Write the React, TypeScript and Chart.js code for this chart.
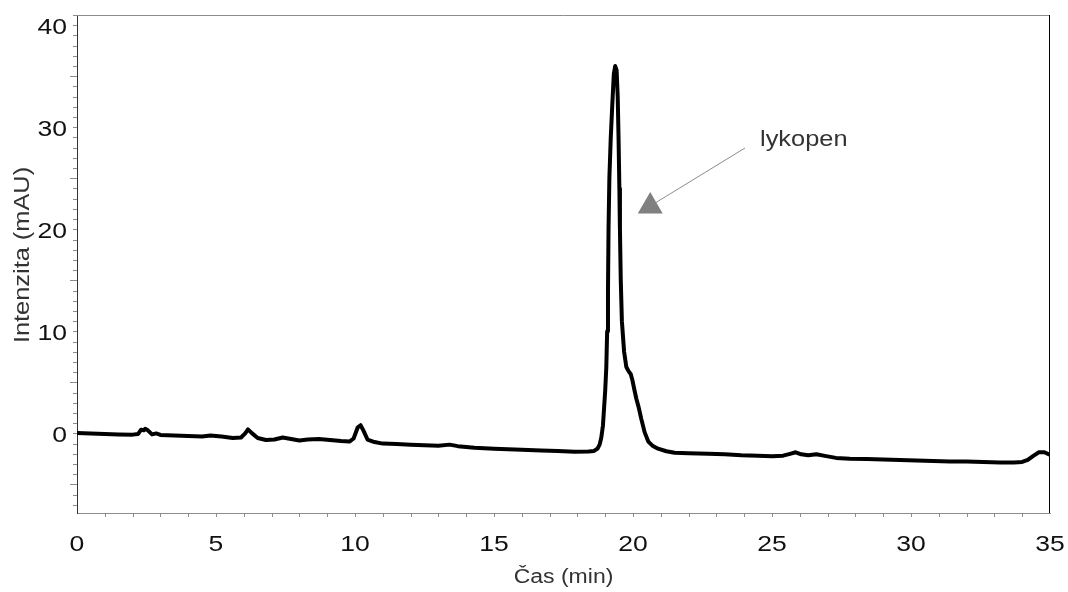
import { useEffect, useRef } from "react";
import { Chart, registerables } from "chart.js";

Chart.register(...registerables);

// Retention time (min) of the detector trace
const timeMin = [
  0, 0.5, 1.0, 1.5, 2.0, 2.2, 2.3, 2.4, 2.45, 2.55, 2.7, 2.85, 3.0, 3.5, 4.0, 4.5, 4.8, 5.2, 5.6, 5.9,
  6.05, 6.15, 6.3, 6.5, 6.8, 7.1, 7.4, 7.7, 8.0, 8.3, 8.7, 9.1, 9.5, 9.8, 9.95, 10.1, 10.2, 10.3, 10.45,
  10.7, 11.0, 11.5, 12.0, 12.5, 13.0, 13.4, 13.7, 14.3, 15.0, 15.5, 16.0, 16.7, 17.3, 17.9, 18.4, 18.6,
  18.72, 18.8, 18.86, 18.92, 18.96, 19.0, 19.04, 19.07, 19.1, 19.12, 19.15, 19.2, 19.26, 19.31, 19.36,
  19.41, 19.45, 19.48, 19.51, 19.53, 19.56, 19.6, 19.68, 19.76, 19.84, 19.92, 19.98, 20.04, 20.12, 20.2,
  20.3, 20.42, 20.55, 20.7, 20.9, 21.2, 21.5, 22.0, 22.7, 23.3, 23.9, 24.5, 25.0, 25.4, 25.65, 25.85,
  26.05, 26.3, 26.6, 26.9, 27.3, 27.8, 28.4, 29.0, 29.6, 30.2, 30.8, 31.4, 32.0, 32.6, 33.2, 33.7, 34.0,
  34.2, 34.4, 34.6, 34.8, 34.95,
];

// Absorbance (mAU) at each retention time
const intensity = [
  0.05, 0.0, -0.05, -0.1, -0.12, -0.05, 0.35, 0.3, 0.45, 0.3, -0.1, 0.0, -0.15, -0.2, -0.25, -0.3, -0.2,
  -0.3, -0.45, -0.4, 0.0, 0.4, 0.0, -0.45, -0.65, -0.6, -0.4, -0.55, -0.7, -0.6, -0.55, -0.65, -0.75,
  -0.8, -0.5, 0.6, 0.8, 0.3, -0.6, -0.85, -1.0, -1.05, -1.1, -1.15, -1.2, -1.1, -1.25, -1.4, -1.5, -1.55,
  -1.6, -1.68, -1.72, -1.8, -1.78, -1.72, -1.5, -1.1, -0.4, 0.8, 2.5, 4.2, 6.5, 10.0, 14.0, 20.0, 25.0,
  29.0, 32.5, 35.2, 36.0, 35.6, 33.0, 29.0, 24.0, 20.0, 15.0, 11.0, 8.0, 6.5, 6.1, 5.8, 5.2, 4.4, 3.4,
  2.6, 1.4, 0.1, -0.8, -1.2, -1.5, -1.75, -1.9, -1.95, -2.0, -2.05, -2.15, -2.2, -2.25, -2.18, -2.0,
  -1.85, -2.05, -2.15, -2.05, -2.2, -2.4, -2.48, -2.5, -2.55, -2.6, -2.65, -2.7, -2.75, -2.75, -2.8,
  -2.85, -2.85, -2.8, -2.6, -2.2, -1.85, -1.85, -2.05,
];

// Labelled axis ticks
const xTickLabels = [0, 5, 10, 15, 20, 25, 30, 35];
const yTickLabels = [0, 10, 20, 30, 40];

// Peak annotation: marker, leader line and label (data coordinates)
const markerTime = [20.62];
const markerIntensity = [22.25];
const leaderTime = [20.81, 24.03];
const leaderIntensity = [22.6, 27.97];
const peakLabel = "lykopen";
const peakLabelAt = [24.57, 28.2];

const FONT = "'Liberation Sans', Arial, sans-serif";
const TEXT_STRETCH = 1.18;

function drawText(
  ctx: CanvasRenderingContext2D,
  text: string,
  x: number,
  y: number,
  size: number,
  color: string,
  align: CanvasTextAlign,
  rotate = 0
) {
  ctx.save();
  ctx.translate(x, y);
  if (rotate) ctx.rotate(rotate);
  ctx.scale(TEXT_STRETCH, 1);
  ctx.font = `${size}px ${FONT}`;
  ctx.fillStyle = color;
  ctx.textAlign = align;
  ctx.textBaseline = "alphabetic";
  ctx.fillText(text, 0, 0);
  ctx.restore();
}

const axisDecor = {
  id: "axisDecor",
  afterDraw(chart: any) {
    const { ctx, chartArea: a, scales } = chart;
    const xs = scales.x;
    const ys = scales.y;
    ctx.save();
    ctx.lineWidth = 1;

    // frame: top edge grey, right edge black
    ctx.strokeStyle = "#8c8c8c";
    ctx.beginPath();
    ctx.moveTo(a.left, a.top + 0.5);
    ctx.lineTo(a.right, a.top + 0.5);
    ctx.stroke();
    ctx.strokeStyle = "#000";
    ctx.beginPath();
    ctx.moveTo(a.right - 0.5, a.top);
    ctx.lineTo(a.right - 0.5, a.bottom);
    ctx.stroke();

    // minor ticks every unit; longer ones halfway between labelled values
    ctx.strokeStyle = "#8c8c8c";
    ctx.beginPath();
    ys.ticks.forEach((t: any) => {
      if (t.value < ys.min || t.value > ys.max) return;
      const py = Math.round(ys.getPixelForValue(t.value)) + 0.5;
      const len = Math.abs(t.value % 10) === 5 ? 7 : 4;
      ctx.moveTo(a.left - len, py);
      ctx.lineTo(a.left, py);
    });
    xs.ticks.forEach((t: any) => {
      if (t.value <= xs.min || t.value >= xs.max) return;
      const px = Math.round(xs.getPixelForValue(t.value)) + 0.5;
      ctx.moveTo(px, a.bottom);
      ctx.lineTo(px, a.bottom + 4);
    });
    ctx.stroke();

    // tick labels
    xTickLabels.forEach((v) => {
      drawText(ctx, String(v), xs.getPixelForValue(v), a.bottom + 38, 22.5, "#111", "center");
    });
    yTickLabels.forEach((v) => {
      drawText(ctx, String(v), a.left - 10, ys.getPixelForValue(v) + 8.5, 22.5, "#111", "right");
    });

    // axis titles
    drawText(ctx, "Čas (min)", (a.left + a.right) / 2, 582.5, 19.5, "#333", "center");
    drawText(ctx, "Intenzita (mAU)", 29, 255, 21.5, "#333", "center", -Math.PI / 2);

    // peak label
    drawText(
      ctx,
      peakLabel,
      xs.getPixelForValue(peakLabelAt[0]),
      ys.getPixelForValue(peakLabelAt[1]),
      21.5,
      "#333",
      "left"
    );
    ctx.restore();
  },
};

export default function App() {
  const canvasRef = useRef<HTMLCanvasElement | null>(null);

  useEffect(() => {
    const canvas = canvasRef.current;
    if (!canvas) return;
    const chart = new Chart(canvas, {
      type: "line",
      data: {
        datasets: [
          {
            label: "trace",
            data: timeMin.map((t, i) => ({ x: t, y: intensity[i] })),
            borderColor: "#000",
            borderWidth: 4,
            borderJoinStyle: "round",
            borderCapStyle: "round",
            pointRadius: 0,
            tension: 0,
            fill: false,
          },
          {
            label: "leader",
            data: leaderTime.map((t, i) => ({ x: t, y: leaderIntensity[i] })),
            borderColor: "#8c8c8c",
            borderWidth: 1,
            pointRadius: 0,
            fill: false,
          },
          {
            label: "marker",
            data: markerTime.map((t, i) => ({ x: t, y: markerIntensity[i] })),
            showLine: false,
            pointStyle: "triangle",
            pointRadius: 14.4,
            pointBackgroundColor: "#808080",
            pointBorderWidth: 0,
            borderColor: "#808080",
          },
        ],
      },
      options: {
        responsive: false,
        animation: false,
        events: [],
        layout: { padding: { top: 15, right: 18, left: 0, bottom: 0 } },
        plugins: {
          legend: { display: false },
          tooltip: { enabled: false },
        },
        scales: {
          x: {
            type: "linear",
            min: 0,
            max: 35,
            ticks: { display: false, stepSize: 1, includeBounds: false },
            grid: { display: false },
            border: { display: true, color: "#8c8c8c", width: 1 },
            afterFit: (s: any) => {
              s.height = 79;
            },
          },
          y: {
            type: "linear",
            min: -7.8,
            max: 41,
            ticks: { display: false, stepSize: 1, includeBounds: false },
            grid: { display: false },
            border: { display: true, color: "#333", width: 1 },
            afterFit: (s: any) => {
              s.width = 77;
            },
          },
        },
      },
      plugins: [axisDecor],
    });
    return () => chart.destroy();
  }, []);

  return (
    <div
      style={{
        position: "fixed",
        left: 0,
        top: 0,
        width: 1068,
        height: 592,
        background: "#fff",
      }}
    >
      <canvas ref={canvasRef} width={1068} height={592} style={{ display: "block" }} />
    </div>
  );
}
